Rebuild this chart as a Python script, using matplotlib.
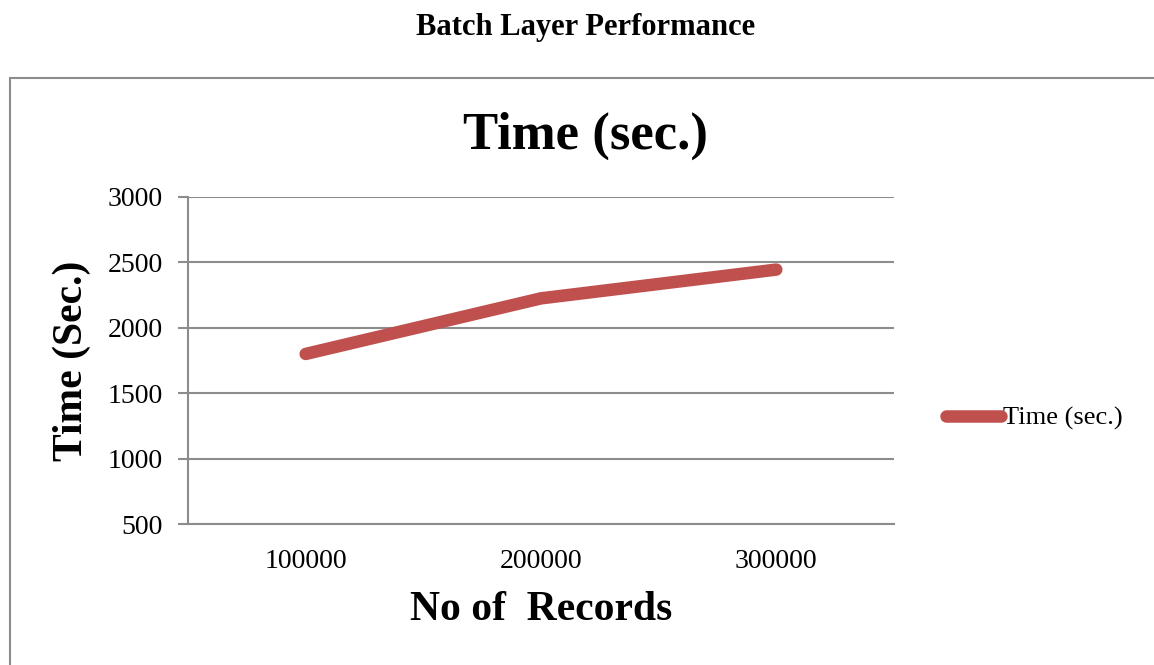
import matplotlib.pyplot as plt
from matplotlib.patches import Rectangle

# Batch layer timing per record count
records = ["100000", "200000", "300000"]
time_sec = [1800, 2225, 2445]
y_ticks = [500, 1000, 1500, 2000, 2500, 3000]

LINE_COLOR = "#C0504D"
GRID_COLOR = "#8C8C8C"
SERIF = ["Liberation Serif", "DejaVu Serif"]

plt.rcParams["font.family"] = SERIF

fig = plt.figure(figsize=(11.54, 6.65), dpi=100)
ax = fig.add_axes([0.1629, 0.2120, 0.6118, 0.4918])

# Outer chart border
fig.patches.append(Rectangle(
    (0.0085, -0.01), 1.1, 0.8927,
    transform=fig.transFigure,
    fill=False, edgecolor=GRID_COLOR, linewidth=1.5,
))

x = list(range(len(records)))
ax.plot(x, time_sec, color=LINE_COLOR, linewidth=9,
        solid_capstyle="round", solid_joinstyle="round",
        label="Time (sec.)", zorder=3)

ax.set_xlim(-0.5, len(records) - 0.5)
ax.set_ylim(500, 3000)
ax.set_yticks(y_ticks)
ax.set_xticks(x)
ax.set_xticklabels(records)

ax.grid(axis="y", color=GRID_COLOR, linewidth=1.5)
ax.set_axisbelow(True)
for side in ["top", "right"]:
    ax.spines[side].set_visible(False)
for side in ["left", "bottom"]:
    ax.spines[side].set_color(GRID_COLOR)
    ax.spines[side].set_linewidth(1.5)

ax.tick_params(axis="y", length=7, width=1.5, color=GRID_COLOR,
               labelsize=20, pad=11)
ax.tick_params(axis="x", length=0, labelsize=20, pad=18)

ax.set_xlabel("No of  Records", fontsize=30, fontweight="bold", labelpad=12)
ax.set_ylabel("Time (Sec.)", fontsize=30, fontweight="bold", labelpad=12)

# Chart title sits centred on the chart area, not the plot
fig.text(0.507, 0.796, "Time (sec.)", ha="center", va="center",
         fontsize=38, fontweight="bold")

fig.text(0.507, 0.958, "Batch Layer Performance", ha="center", va="center",
         fontsize=22, fontweight="bold")

fig.legend(loc="center left", bbox_to_anchor=(0.799, 0.371),
           bbox_transform=fig.transFigure, frameon=False,
           fontsize=19, handlelength=2.1, handletextpad=0.05)

fig.savefig("out.png", dpi=100)
